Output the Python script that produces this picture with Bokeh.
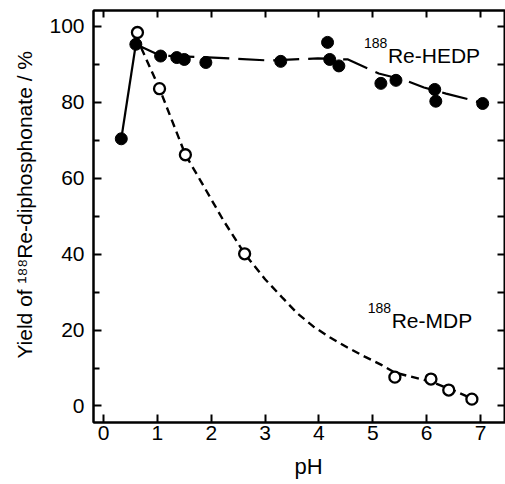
from bokeh.plotting import figure
from bokeh.models import LinearAxis, FixedTicker, Label, Range1d
from bokeh.embed import file_html
from bokeh.resources import INLINE

# ---- data ----
hedp_ph = [0.33, 0.60, 1.06, 1.36, 1.50, 1.90, 3.29, 4.16, 4.20, 4.37, 5.15, 5.43, 6.15, 6.17, 7.04]
hedp_yield = [70.4, 95.3, 92.2, 91.8, 91.3, 90.5, 90.8, 95.8, 91.3, 89.6, 85.0, 85.8, 83.4, 80.3, 79.7]

# guide line drawn through the HEDP data (as traced in the figure)
hedp_line_ph = [0.33, 0.60, 1.06, 2.04, 3.10, 3.98, 4.54, 5.11, 5.61, 5.95, 6.36, 6.86, 7.04]
hedp_line_yield = [70.4, 95.3, 92.3, 91.8, 91.0, 91.6, 91.3, 87.6, 85.8, 83.9, 82.3, 80.5, 79.7]

mdp_ph = [0.63, 1.04, 1.52, 2.62, 5.41, 6.08, 6.41, 6.84]
mdp_yield = [98.4, 83.6, 66.2, 40.1, 7.6, 7.1, 4.2, 1.8]

# dashed fit curve through the MDP data (as traced in the figure)
mdp_curve_ph = [0.60, 1.04, 1.52, 1.80, 2.23, 2.62, 3.00, 3.33, 3.60, 3.90, 4.20, 4.53, 4.85, 5.15, 5.41, 6.08, 6.41, 6.84]
mdp_curve_yield = [97.5, 83.6, 66.2, 59.4, 48.8, 40.1, 33.4, 28.4, 24.4, 20.9, 18.1, 15.4, 13.0, 10.9, 8.8, 6.4, 4.6, 2.0]

x_ticks = [0, 1, 2, 3, 4, 5, 6, 7]
y_ticks = [0, 20, 40, 60, 80, 100]
y_minor = [10, 30, 50, 70, 90]
y_right_ticks = [0, 10, 20, 30, 40, 50, 60, 70, 80, 90, 100]

x_title = "\u00a0" * 3 + "pH"
y_title = "\u00a0" * 4 + "Yield of \u00b9\u2078\u2078Re-diphosphonate / %"

FONT = "Liberation Sans"
W, H = 505, 484

p = figure(width=W, height=H, output_backend="svg", toolbar_location=None,
           x_range=Range1d(-0.186, 7.464), y_range=Range1d(-4.35, 104.2),
           min_border_left=93, min_border_right=0, min_border_top=10, min_border_bottom=62,
           x_axis_location=None, y_axis_location=None)
p.grid.visible = False
p.outline_line_color = "black"
p.outline_line_width = 2
p.background_fill_color = "white"
p.border_fill_color = "white"

def style_axis(ax, ticks, minor=None, labels=True, tick_len=8):
    ax.ticker = FixedTicker(ticks=ticks, minor_ticks=minor or [])
    ax.axis_line_color = "black"
    ax.axis_line_width = 2
    ax.major_tick_in = tick_len
    ax.major_tick_out = 0
    ax.major_tick_line_width = 2
    ax.major_tick_line_color = "black"
    ax.minor_tick_in = 6
    ax.minor_tick_out = 0
    ax.minor_tick_line_width = 2
    ax.minor_tick_line_color = "black" if minor else None
    if labels:
        ax.major_label_text_font = FONT
        ax.major_label_text_font_size = "21px"
        ax.major_label_text_color = "black"
    else:
        ax.major_label_text_font_size = "1px"
        ax.major_label_text_color = None
        ax.major_label_standoff = 0

def style_title(ax, text, standoff):
    ax.axis_label = text
    ax.axis_label_text_font = FONT
    ax.axis_label_text_font_size = "21px"
    ax.axis_label_text_font_style = "normal"
    ax.axis_label_text_color = "black"
    ax.axis_label_standoff = standoff

xb = LinearAxis()
style_axis(xb, x_ticks)
xb.major_label_standoff = 3
style_title(xb, x_title, 11)
xb.axis_label_text_font_size = "22px"
p.add_layout(xb, "below")

yl = LinearAxis()
style_axis(yl, y_ticks, y_minor)
yl.major_label_standoff = 9
style_title(yl, y_title, 10)
p.add_layout(yl, "left")

xt = LinearAxis()
style_axis(xt, x_ticks, labels=False, tick_len=7)
p.add_layout(xt, "above")

yr = LinearAxis()
style_axis(yr, y_right_ticks, labels=False, tick_len=8)
p.add_layout(yr, "right")

# lines: first rise drawn solid, rest long-dashed
p.line(hedp_line_ph[:2], hedp_line_yield[:2], line_color="black", line_width=2.2)
p.line(hedp_line_ph[1:], hedp_line_yield[1:], line_color="black", line_width=2.2, line_dash="26 9")
p.line(mdp_curve_ph, mdp_curve_yield, line_color="black", line_width=2.4, line_dash="8 5")

# markers
p.scatter(hedp_ph, hedp_yield, marker="circle", size=12, fill_color="black", line_color="black")
p.scatter(mdp_ph, mdp_yield, marker="circle", size=11, fill_color="white", line_color="black", line_width=2.3)

# series labels
p.add_layout(Label(x=5.28, y=92.3, text="Re-HEDP", text_align="left", text_baseline="alphabetic",
                   text_font=FONT, text_font_size="21px", text_color="black"))
p.add_layout(Label(x=5.27, y=95.6, text="188", text_align="right", text_baseline="alphabetic",
                   text_font=FONT, text_font_size="14px", text_color="black"))
p.add_layout(Label(x=5.35, y=22.4, text="Re-MDP", text_align="left", text_baseline="alphabetic",
                   text_font=FONT, text_font_size="21px", text_color="black"))
p.add_layout(Label(x=5.34, y=25.7, text="188", text_align="right", text_baseline="alphabetic",
                   text_font=FONT, text_font_size="14px", text_color="black"))

open("out.html", "w").write(file_html(p, INLINE))
